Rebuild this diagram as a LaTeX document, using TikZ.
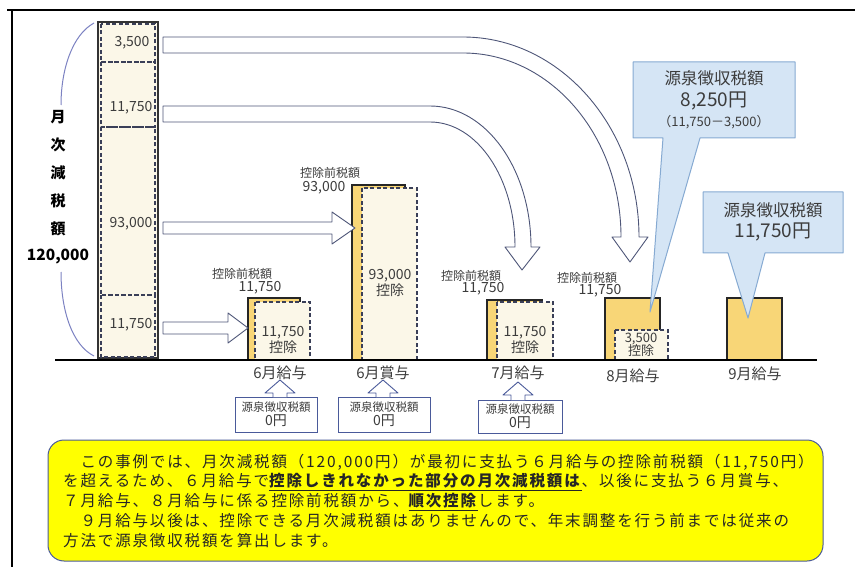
\documentclass[tikz,border=0pt]{standalone}
\usepackage{fontspec}
\setmainfont{Noto Sans CJK JP}
\newfontfamily\notefont[LetterSpace=12]{Noto Sans CJK JP}
\definecolor{baryellow}{HTML}{F8D677}
\definecolor{cream}{HTML}{FBF7E8}
\definecolor{labgray}{HTML}{3C3C3C}
\definecolor{arrowline}{HTML}{4E5678}
\definecolor{dashcol}{HTML}{3A3F58}
\definecolor{boxline}{HTML}{4A5A9A}
\definecolor{calloutfill}{HTML}{D5E5F5}
\definecolor{calloutline}{HTML}{86AAD2}
\definecolor{bracecol}{HTML}{7C82C2}
\definecolor{notefill}{HTML}{FFFF00}
\begin{document}
\begin{tikzpicture}[x=1pt,y=-1pt,
  lbl/.style={text=labgray,inner sep=0pt,font=\fontsize{14}{14}\selectfont},
  small/.style={text=labgray,inner sep=0pt,font=\fontsize{12}{12}\selectfont},
  bar/.style={fill=baryellow,draw=black!85,line width=1.1pt},
  dashbox/.style={fill=cream,draw=dashcol,dash pattern=on 4pt off 2.5pt,line width=1.5pt},
  blockarrow/.style={fill=white,draw=arrowline,line width=0.9pt,line join=round},
  zerobox/.style={fill=white,draw=boxline,line width=0.9pt},
  callout/.style={fill=calloutfill,draw=calloutline,line width=1pt,line join=round},
  noteline/.style={anchor=west,inner sep=0pt,text=black!85,font=\notefont\fontsize{15.5}{15.5}\selectfont}]
\useasboundingbox (0,0) rectangle (855,567);

% frame
\draw[line width=1.1pt] (7,10) -- (855,10);
\draw[line width=1.1pt] (12,10) -- (12,567);

% tall bar of the monthly reduction
\draw[fill=cream,line width=1.4pt,draw=black!80] (98,22) rectangle (158,358);
\draw[dashbox,fill=none] (101,24) rectangle (155,62);
\draw[dashbox,fill=none] (101,62) rectangle (155,127);
\draw[dashbox,fill=none] (101,127) rectangle (155,295);
\draw[dashbox,fill=none] (101,295) rectangle (155,357);
\node[lbl] (part1) at (132,43) {3,500};
\node[lbl] (part2) at (131,108) {11,750};
\node[lbl] (part3) at (131,224) {93,000};
\node[lbl] (part4) at (131,325) {11,750};

% brace and total
\draw[bracecol,line width=1pt] (94,23) .. controls (72,35) and (61,70) .. (61,105);
\draw[bracecol,line width=1pt] (61,272) .. controls (61,310) and (72,345) .. (94,356);
\foreach \ch [count=\i] in {月,次,減,税,額}
  \node[inner sep=0pt,font=\fontsize{15}{15}\selectfont\bfseries] (tot\i) at (58,89+28*\i) {\ch};
\node[inner sep=0pt,font=\fontsize{15.5}{15.5}\selectfont\bfseries] (total) at (58,257) {120,000};

% bars
\draw[bar] (248,298) rectangle (300,360);
\draw[dashbox] (255,302) rectangle (310,360);
\draw[bar] (352,185) rectangle (405,360);
\draw[dashbox] (362,188) rectangle (417,360);
\draw[bar] (487,300) rectangle (542,360);
\draw[dashbox] (497,302) rectangle (553,360);
\draw[bar] (605,298) rectangle (660,360);
\draw[dashbox] (615,330) rectangle (668,360);
\draw[bar] (727,298) rectangle (782,360);
\draw[line width=1.6pt] (55,360) -- (817,360);

% bar labels
\node[small] (pre6) at (242,274) {控除前税額};
\node[lbl] (amt6) at (260,288) {11,750};
\node[lbl,align=center] (ded6) at (283,340) {11,750\\[1pt]控除};
\node[small] (preb) at (330,173) {控除前税額};
\node[lbl] (amtb) at (324,188) {93,000};
\node[lbl,align=center] (dedb) at (390,283) {93,000\\[1pt]控除};
\node[small] (pre7) at (471,276) {控除前税額};
\node[lbl] (amt7) at (483,289) {11,750};
\node[lbl,align=center] (ded7) at (525,340) {11,750\\[1pt]控除};
\node[small] (pre8) at (587,278) {控除前税額};
\node[lbl] (amt8) at (600,291) {11,750};
\node[lbl,align=center,font=\fontsize{13}{13}\selectfont] (ded8) at (641,345) {3,500\\[-1pt]控除};

% month labels
\node[lbl,font=\fontsize{15}{15}\selectfont] (m6) at (280,373) {6月給与};
\node[lbl,font=\fontsize{15}{15}\selectfont] (b6) at (383,373) {6月賞与};
\node[lbl,font=\fontsize{15}{15}\selectfont] (m7) at (518,373) {7月給与};
\node[lbl,font=\fontsize{15}{15}\selectfont] (m8) at (633,376) {8月給与};
\node[lbl,font=\fontsize{15}{15}\selectfont] (m9) at (755,374) {9月給与};

% straight block arrows
\draw[blockarrow] (163,322) -- (228,322) -- (228,313) -- (248,328) -- (228,343) -- (228,334) -- (163,334) -- cycle;
\draw[blockarrow] (163,222) -- (332,222) -- (332,212) -- (355,228) -- (332,244) -- (332,234) -- (163,234) -- cycle;

% curved block arrows
\draw[blockarrow] (163,106) -- (430,106) .. controls (486,106) and (531,169) .. (531,247)
  -- (540,247) -- (522,270) -- (505,247) -- (515,247)
  .. controls (515,178) and (477,122) .. (430,122) -- (163,122) -- cycle;
\draw[blockarrow] (163,37) -- (463,37) .. controls (560,37) and (639,127) .. (639,237)
  -- (648,237) -- (630,262) -- (612,237) -- (621,237)
  .. controls (621,135) and (550,53) .. (463,53) -- (163,53) -- cycle;

% zero tax boxes with up arrows
\draw[zerobox] (235,397) rectangle (317,432);
\draw[zerobox] (338,397) rectangle (430,432);
\draw[zerobox] (478,400) rectangle (562,433);
\foreach \ax/\ay/\by in {280/380/397, 383/380/397, 518/382/400}
  \draw[blockarrow,draw=boxline] (\ax-7,\by) -- (\ax-7,\ay+13) -- (\ax-15,\ay+13) -- (\ax,\ay)
    -- (\ax+15,\ay+13) -- (\ax+7,\ay+13) -- (\ax+7,\by);
\node[small,align=center,font=\fontsize{11.5}{11.5}\selectfont] (zero6) at (276,414) {源泉徴収税額\\[1pt]{\fontsize{14}{14}\selectfont 0円}};
\node[small,align=center,font=\fontsize{11.5}{11.5}\selectfont] (zerob) at (384,414) {源泉徴収税額\\[1pt]{\fontsize{14}{14}\selectfont 0円}};
\node[small,align=center,font=\fontsize{11.5}{11.5}\selectfont] (zero7) at (520,416) {源泉徴収税額\\[1pt]{\fontsize{14}{14}\selectfont 0円}};

% callouts
\draw[callout] (633,62) -- (795,62) -- (795,138) -- (700,138) -- (650,312) -- (663,138) -- (633,138) -- cycle;
\draw[callout] (703,192) -- (843,192) -- (843,253) -- (765,253) -- (748,318) -- (728,253) -- (703,253) -- cycle;
\node[inner sep=0pt,text=labgray,font=\fontsize{16.5}{16.5}\selectfont] (c8title) at (714,78) {源泉徴収税額};
\node[inner sep=0pt,text=labgray,font=\fontsize{19}{19}\selectfont] (c8amt) at (714,101) {8,250円};
\node[inner sep=0pt,text=labgray,font=\fontsize{13}{13}\selectfont] (c8calc) at (714,122) {（11,750－3,500）};
\node[inner sep=0pt,text=labgray,font=\fontsize{16.5}{16.5}\selectfont] (c9title) at (773,210) {源泉徴収税額};
\node[inner sep=0pt,text=labgray,font=\fontsize{19}{19}\selectfont] (c9amt) at (773,232) {11,750円};

% note
\draw[fill=notefill,draw=boxline,line width=1pt,rounded corners=16pt] (48,440) rectangle (823,561);
\node[noteline] (note1) at (63,462) {　この事例では、月次減税額（120,000円）が最初に支払う６月給与の控除前税額（11,750円）};
\node[noteline] (note2) at (63,482) {を超えるため、６月給与で\underline{\textbf{控除しきれなかった部分の月次減税額は}}、以後に支払う６月賞与、};
\node[noteline] (note3) at (63,502) {７月給与、８月給与に係る控除前税額から、\underline{\textbf{順次控除}}します。};
\node[noteline] (note4) at (63,521) {　９月給与以後は、控除できる月次減税額はありませんので、年末調整を行う前までは従来の};
\node[noteline] (note5) at (63,541) {方法で源泉徴収税額を算出します。};
\end{tikzpicture}
\end{document}
